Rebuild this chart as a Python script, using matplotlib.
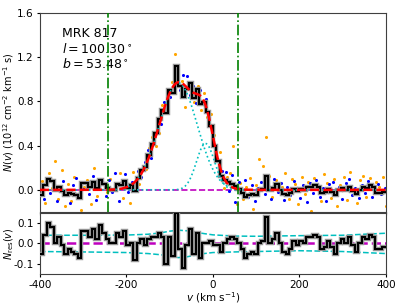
import numpy as np
import matplotlib
matplotlib.use('Agg')
import matplotlib.pyplot as plt
import matplotlib.patheffects as pe

# Gaussian components of the fit: amplitude, centre (km/s), sigma (km/s)
comp_amp = [0.97, 0.42]
comp_cen = [-80.0, -17.0]
comp_sig = [44.0, 21.0]

# residuals of the binned column density (8 km/s bins from -400 to 400)
bin_edges = np.arange(-400, 401, 8)
resid = [-0.05, 0.04, 0.10, 0.08, 0.00, 0.03, -0.01, -0.05, -0.03, -0.04,
         -0.05, -0.07, 0.06, 0.06, 0.03, 0.07, 0.02, 0.09, 0.05, 0.02,
         0.00, 0.00, 0.05, 0.03, 0.06, -0.01, 0.00, -0.08, 0.00, 0.02,
         -0.01, 0.02, 0.03, 0.03, 0.05, 0.03, -0.10, 0.03, -0.06, 0.15,
         -0.03, -0.12, -0.01, 0.07, -0.05, 0.05, -0.07, 0.00, 0.00, 0.01,
         -0.01, -0.01, -0.04, 0.00, 0.02, 0.03, 0.02, 0.00, -0.03, -0.07,
         -0.05, -0.04, -0.05, 0.00, 0.01, 0.13, 0.00, 0.02, 0.05, 0.00,
         -0.04, -0.05, -0.03, 0.01, -0.01, 0.01, 0.00, 0.03, 0.03, 0.04,
         0.03, -0.03, -0.02, 0.01, -0.02, -0.05, 0.00, 0.02, 0.00, 0.03,
         -0.01, -0.04, 0.00, 0.03, 0.02, 0.04, 0.03, -0.03, -0.03, -0.02]

# individual pixel measurements (offsets from the fit)
v_orange = np.arange(-395, 401, 7.5)
dev_orange = [0.08, -0.12, 0.15, 0.02, 0.26, -0.08, 0.18, -0.15, 0.05, -0.10,
              0.12, -0.05, -0.18, 0.03, 0.09, -0.13, 0.20, -0.06, 0.07, -0.25,
              -0.02, 0.10, -0.22, 0.04, 0.14, -0.09, 0.06, -0.16, 0.11, 0.00,
              -0.07, 0.05, -0.04, 0.08, 0.10, -0.08, -0.06, 0.09, -0.05, 0.04,
              0.06, 0.27, -0.03, 0.02, -0.20, 0.06, 0.05, -0.08, 0.07, -0.12,
              0.08, -0.05, 0.10, 0.06, -0.04, 0.15, -0.10, 0.05, 0.12, 0.38,
              -0.14, 0.06, -0.09, 0.02, 0.11, -0.17, 0.04, 0.28, 0.22, 0.48,
              0.13, -0.06, 0.09, -0.21, 0.03, 0.15, -0.08, 0.10, 0.05, -0.13,
              0.12, -0.04, 0.07, -0.19, 0.11, 0.02, -0.10, 0.14, 0.06, -0.07,
              0.10, -0.15, 0.04, 0.12, -0.09, 0.16, 0.01, -0.12, 0.09, 0.13,
              -0.06, 0.11, -0.22, 0.07, 0.03, 0.12, -0.15]
v_blue = np.arange(-398, 400, 7.5)
dev_blue = [0.05, -0.08, 0.10, -0.03, 0.06, -0.10, 0.02, 0.08, -0.05, -0.12,
            0.04, 0.11, -0.07, 0.01, 0.07, -0.04, 0.13, -0.09, 0.03, 0.06,
            -0.06, 0.09, -0.02, 0.15, -0.11, 0.04, 0.12, -0.05, 0.02, -0.08,
            0.07, -0.03, 0.05, 0.09, -0.06, 0.03, 0.08, -0.04, 0.06, 0.02,
            -0.05, 0.19, 0.03, -0.07, 0.08, 0.10, -0.04, 0.06, -0.08, 0.05,
            -0.03, 0.07, 0.02, -0.06, 0.04, -0.09, 0.03, 0.08, -0.05, 0.11,
            -0.12, 0.06, -0.03, 0.09, -0.07, 0.04, -0.10, 0.02, 0.07, -0.04,
            0.05, -0.08, 0.10, -0.02, 0.06, -0.09, 0.03, -0.05, 0.08, 0.01,
            -0.07, 0.04, -0.11, 0.06, -0.03, 0.09, -0.06, 0.02, -0.10, 0.05,
            0.07, -0.04, 0.03, -0.08, 0.06, 0.10, -0.05, 0.02, -0.07, 0.04,
            -0.03, 0.08, -0.06, 0.01, 0.05, -0.04, 0.02]

# error envelope of the residuals
err_v = [-400, -300, -200, -150, -120, -100, -80, -60, -40, -20, 0, 50, 100, 200, 300, 350, 400]
err_hi = [0.040, 0.040, 0.041, 0.045, 0.052, 0.060, 0.065, 0.062, 0.055, 0.048, 0.042, 0.036, 0.035, 0.038, 0.040, 0.045, 0.050]
err_lo = [-0.040, -0.042, -0.045, -0.050, -0.056, -0.062, -0.070, -0.066, -0.058, -0.050, -0.045, -0.042, -0.040, -0.036, -0.040, -0.045, -0.050]

# integration limits
v_min, v_max = -242, 57


def gauss(v, a, c, s):
    return a * np.exp(-0.5 * ((v - c) / s) ** 2)


def model(v):
    return sum(gauss(v, a, c, s) for a, c, s in zip(comp_amp, comp_cen, comp_sig))


plt.rcParams['font.size'] = 7.5
plt.rcParams['mathtext.fontset'] = 'dejavusans'
plt.rcParams['xtick.major.size'] = 2.5
plt.rcParams['ytick.major.size'] = 2.5
plt.rcParams['xtick.major.pad'] = 2
plt.rcParams['ytick.major.pad'] = 2
plt.rcParams['axes.edgecolor'] = '0.25'

fig = plt.figure(figsize=(4.07, 3.05), dpi=100)
ax1 = fig.add_axes([0.098, 0.305, 0.850, 0.652])
ax2 = fig.add_axes([0.098, 0.102, 0.850, 0.200])

centres = 0.5 * (bin_edges[:-1] + bin_edges[1:])
resid = np.array(resid)
ndata = model(centres) + resid
vv = np.linspace(-400, 400, 801)

shadow = [pe.Stroke(linewidth=3.2, foreground='0.6'), pe.Normal()]

# top panel
ax1.axhline(0, color='m', ls='--', lw=1.2, zorder=1)
ax1.scatter(v_orange, model(v_orange) + np.array(dev_orange), s=5, color='orange', zorder=2, lw=0)
ax1.scatter(v_blue, model(v_blue) + np.array(dev_blue), s=5, color='blue', zorder=2, lw=0)
ax1.stairs(ndata, bin_edges, color='k', lw=1.5, baseline=None, zorder=3, path_effects=shadow)
for a, c, s in zip(comp_amp, comp_cen, comp_sig):
    ax1.plot(vv, gauss(vv, a, c, s), color='c', ls=':', lw=1.2, zorder=4)
ax1.plot(vv, model(vv), color='r', ls='--', lw=1.8, zorder=5)
ax1.axvline(v_min, color='g', ls='-.', lw=1.2, zorder=6)
ax1.axvline(v_max, color='g', ls='-.', lw=1.2, zorder=6)

ax1.set_xlim(-400, 400)
ax1.set_ylim(-0.2, 1.6)
ax1.set_yticks([0.0, 0.4, 0.8, 1.2, 1.6])
ax1.set_yticklabels(['0.0', '0.4', '0.8', '1.2', '1.6'])
ax1.set_xticks([-400, -200, 0, 200, 400])
ax1.set_xticklabels([])
ax1.set_ylabel(r'$N(v)\ (10^{12}\ \mathrm{cm^{-2}\ km^{-1}\ s})$', fontsize=7)
ax1.yaxis.set_label_coords(-0.07, 0.5)
ax1.text(0.065, 0.93, 'MRK 817', transform=ax1.transAxes, va='top', fontsize=9)
ax1.text(0.065, 0.855, r'$l = 100.30^\circ$', transform=ax1.transAxes, va='top', fontsize=9)
ax1.text(0.065, 0.78, r'$b = 53.48^\circ$', transform=ax1.transAxes, va='top', fontsize=9)

# residual panel
ax2.axhline(0, color='m', ls='--', lw=1.8, zorder=1)
ax2.plot(err_v, err_hi, color='c', ls='--', lw=1.1, zorder=2)
ax2.plot(err_v, err_lo, color='c', ls='--', lw=1.1, zorder=2)
ax2.stairs(resid, bin_edges, color='k', lw=1.5, baseline=None, zorder=3, path_effects=shadow)
ax2.set_xlim(-400, 400)
ax2.set_ylim(-0.15, 0.15)
ax2.set_yticks([-0.1, 0.0, 0.1])
ax2.set_yticklabels(['-0.1', '0.0', '0.1'])
ax2.set_xticks([-400, -200, 0, 200, 400])
ax2.set_xticklabels(['-400', '-200', '0', '200', '400'])
ax2.set_ylabel(r'$N_{\rm res}(v)$', fontsize=7)
ax2.yaxis.set_label_coords(-0.07, 0.5)
ax2.set_xlabel(r'$v$ (km s$^{-1}$)', labelpad=0, fontsize=7.5)

fig.savefig('out.png', dpi=100)
